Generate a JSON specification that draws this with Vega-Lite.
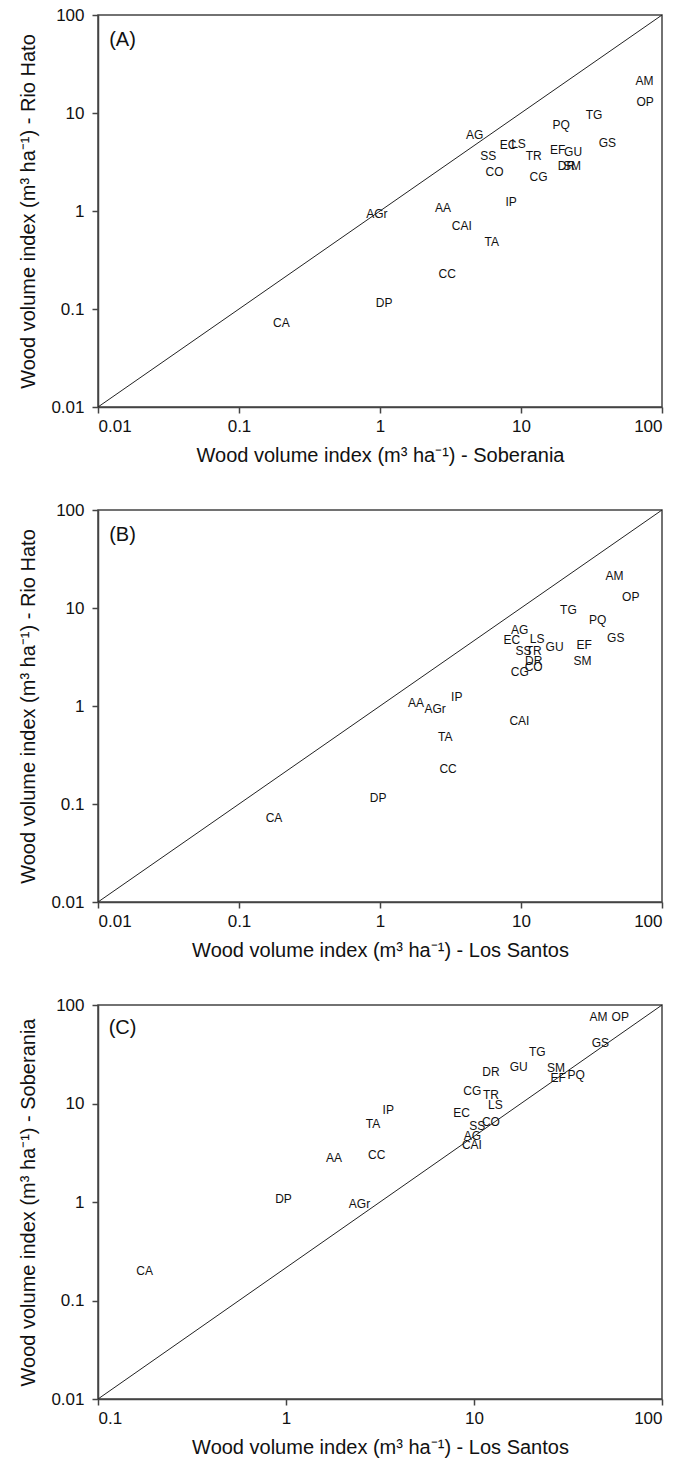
{
  "$schema": "https://vega.github.io/schema/vega-lite/v6.json",
  "background": "white",
  "padding": {"left": 18, "top": 5, "right": 5, "bottom": 8},
  "bounds": "flush",
  "spacing": 103,
  "config": {
    "font": "Liberation Sans",
    "view": {"stroke": "#444", "strokeWidth": 1.5},
    "axis": {"grid": false, "domainColor": "#444", "domainWidth": 1.5, "tickColor": "#444", "tickWidth": 1.5, "tickSize": 6, "labelFontSize": 17, "labelColor": "#111", "titleFontSize": 20, "titleFontWeight": "normal", "titleColor": "#111", "labelFont": "Liberation Sans", "titleFont": "Liberation Sans"},
    "axisX": {"labelPadding": 5, "titlePadding": 11},
    "axisY": {"labelPadding": 8, "titlePadding": 12}
  },
  "datasets": {
    "wood": [
      {"sp": "AM", "S": 75, "R": 21, "L": 46},
      {"sp": "OP", "S": 76, "R": 12.8, "L": 60},
      {"sp": "TG", "S": 33, "R": 9.5, "L": 21.7},
      {"sp": "PQ", "S": 19.3, "R": 7.5, "L": 35},
      {"sp": "GS", "S": 41, "R": 5.0, "L": 47},
      {"sp": "AG", "S": 4.7, "R": 6.0, "L": 9.8},
      {"sp": "EC", "S": 8.1, "R": 4.75, "L": 8.6},
      {"sp": "LS", "S": 9.6, "R": 4.85, "L": 13},
      {"sp": "SS", "S": 5.85, "R": 3.65, "L": 10.4},
      {"sp": "CO", "S": 6.5, "R": 2.5, "L": 12.3},
      {"sp": "TR", "S": 12.3, "R": 3.65, "L": 12.3},
      {"sp": "EF", "S": 18.2, "R": 4.2, "L": 28},
      {"sp": "GU", "S": 23.4, "R": 4.0, "L": 17.3},
      {"sp": "DR", "S": 21, "R": 2.9, "L": 12.3},
      {"sp": "SM", "S": 23, "R": 2.85, "L": 27.3},
      {"sp": "CG", "S": 13.3, "R": 2.2, "L": 9.8},
      {"sp": "IP", "S": 8.5, "R": 1.24, "L": 3.5},
      {"sp": "AA", "S": 2.8, "R": 1.08, "L": 1.8},
      {"sp": "AGr", "S": 0.95, "R": 0.94, "L": 2.46},
      {"sp": "CAI", "S": 3.8, "R": 0.7, "L": 9.75},
      {"sp": "TA", "S": 6.2, "R": 0.48, "L": 2.9},
      {"sp": "CC", "S": 3.0, "R": 0.23, "L": 3.04},
      {"sp": "DP", "S": 1.07, "R": 0.115, "L": 0.97},
      {"sp": "CA", "S": 0.2, "R": 0.072, "L": 0.177}
    ],
    "diagA": [{"S": 0.01, "R": 0.01}, {"S": 100, "R": 100}],
    "diagB": [{"L": 0.01, "R": 0.01}, {"L": 100, "R": 100}],
    "diagC": [{"L": 0.1, "S": 0.01}, {"L": 100, "S": 100}]
  },
  "vconcat": [
    {
      "width": 564,
      "height": 392,
      "layer": [
        {
          "data": {"name": "diagA"},
          "mark": {"type": "line", "color": "#222", "strokeWidth": 1},
          "encoding": {
            "x": {"field": "S", "type": "quantitative", "scale": {"type": "log", "domain": [0.01, 100], "nice": false}, "axis": {"values": [0.01, 0.1, 1, 10, 100], "format": "~g", "title": "Wood volume index (m³ ha⁻¹) - Soberania"}},
            "y": {"field": "R", "type": "quantitative", "scale": {"type": "log", "domain": [0.01, 100], "nice": false}, "axis": {"values": [0.01, 0.1, 1, 10, 100], "format": "~g", "title": "Wood volume index (m³ ha⁻¹) - Rio Hato"}}
          }
        },
        {
          "data": {"name": "wood"},
          "mark": {"type": "text", "fontSize": 12, "color": "#111", "align": "center", "baseline": "middle"},
          "encoding": {
            "x": {"field": "S", "type": "quantitative"},
            "y": {"field": "R", "type": "quantitative"},
            "text": {"field": "sp"}
          }
        },
        {
          "data": {"values": [{"panel": "(A)"}]},
          "mark": {"type": "text", "fontSize": 20, "color": "#111", "align": "left", "baseline": "middle"},
          "encoding": {
            "x": {"datum": 0.012},
            "y": {"datum": 56},
            "text": {"field": "panel"}
          }
        }
      ]
    },
    {
      "width": 564,
      "height": 392,
      "layer": [
        {
          "data": {"name": "diagB"},
          "mark": {"type": "line", "color": "#222", "strokeWidth": 1},
          "encoding": {
            "x": {"field": "L", "type": "quantitative", "scale": {"type": "log", "domain": [0.01, 100], "nice": false}, "axis": {"values": [0.01, 0.1, 1, 10, 100], "format": "~g", "title": "Wood volume index (m³ ha⁻¹) - Los Santos"}},
            "y": {"field": "R", "type": "quantitative", "scale": {"type": "log", "domain": [0.01, 100], "nice": false}, "axis": {"values": [0.01, 0.1, 1, 10, 100], "format": "~g", "title": "Wood volume index (m³ ha⁻¹) - Rio Hato"}}
          }
        },
        {
          "data": {"name": "wood"},
          "mark": {"type": "text", "fontSize": 12, "color": "#111", "align": "center", "baseline": "middle"},
          "encoding": {
            "x": {"field": "L", "type": "quantitative"},
            "y": {"field": "R", "type": "quantitative"},
            "text": {"field": "sp"}
          }
        },
        {
          "data": {"values": [{"panel": "(B)"}]},
          "mark": {"type": "text", "fontSize": 20, "color": "#111", "align": "left", "baseline": "middle"},
          "encoding": {
            "x": {"datum": 0.012},
            "y": {"datum": 56},
            "text": {"field": "panel"}
          }
        }
      ]
    },
    {
      "width": 564,
      "height": 394,
      "layer": [
        {
          "data": {"name": "diagC"},
          "mark": {"type": "line", "color": "#222", "strokeWidth": 1},
          "encoding": {
            "x": {"field": "L", "type": "quantitative", "scale": {"type": "log", "domain": [0.1, 100], "nice": false}, "axis": {"values": [0.1, 1, 10, 100], "format": "~g", "title": "Wood volume index (m³  ha⁻¹) - Los Santos"}},
            "y": {"field": "S", "type": "quantitative", "scale": {"type": "log", "domain": [0.01, 100], "nice": false}, "axis": {"values": [0.01, 0.1, 1, 10, 100], "format": "~g", "title": "Wood volume index (m³ ha⁻¹) - Soberania"}}
          }
        },
        {
          "data": {"name": "wood"},
          "mark": {"type": "text", "fontSize": 12, "color": "#111", "align": "center", "baseline": "middle"},
          "encoding": {
            "x": {"field": "L", "type": "quantitative"},
            "y": {"field": "S", "type": "quantitative"},
            "text": {"field": "sp"}
          }
        },
        {
          "data": {"values": [{"panel": "(C)"}]},
          "mark": {"type": "text", "fontSize": 20, "color": "#111", "align": "left", "baseline": "middle"},
          "encoding": {
            "x": {"datum": 0.114},
            "y": {"datum": 58},
            "text": {"field": "panel"}
          }
        }
      ]
    }
  ]
}
